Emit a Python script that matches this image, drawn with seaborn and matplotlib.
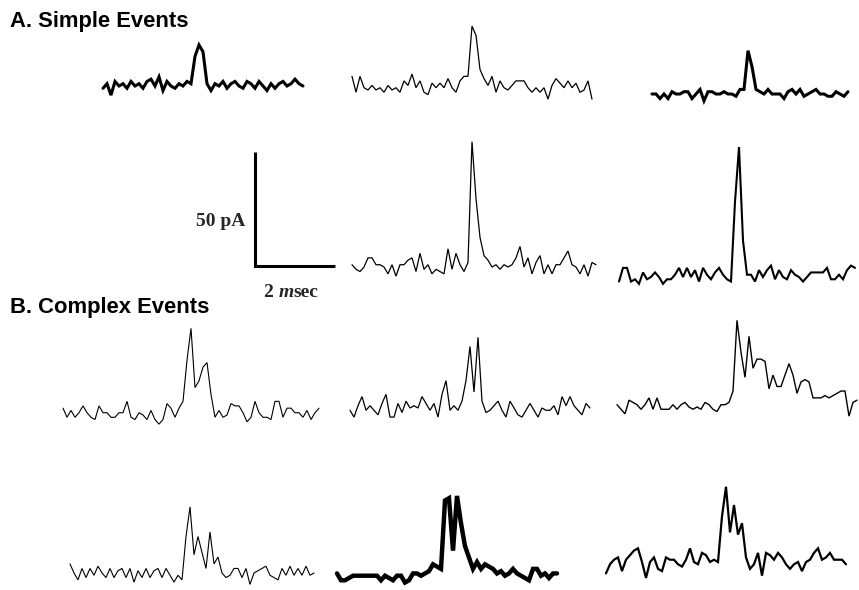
import matplotlib
matplotlib.use("Agg")
import matplotlib.pyplot as plt
import seaborn as sns

sns.set_theme(style="white")
plt.rcParams['font.family'] = ['Liberation Sans', 'DejaVu Sans']

# ---------------- data (currents in pA, sampled every DT_MS) ----------------
DT_MS = 0.1
SCALE_PA = 50
SCALE_MS = 2

section_titles = ["A. Simple Events", "B. Complex Events"]
scale_labels = ["50 pA", "2 ", "m", "sec"]

simple_1 = [-1, 1, -4, 2, 0, 1, -1, 2, 0, 1, -1, 2, 3, 0, 4, -2, 2, 0, -1, 1, 0, 2, 1, 13, 18,
            15, 1, -2, 1, 0, 2, -1, 1, 2, 0, -1, 2, 1, -1, 2, 0, -2, 1, -1, 1, 2, 0, 1, 3, 1, 0]
simple_2 = [6, -1, 6, 1, 0, 2, 0, 1, -1, 2, 0, 1, -1, 4, 2, 7, 1, 4, -1, -2, 3, 1, 3, 1, 5, 1, -1, 4,
            6, 6, 28, 24, 9, 5, 2, 6, -1, 4, 1, 0, 2, 4, 4, 4, 1, -1, 1, -1, 1, -4, 2, 5, 3, 1, 4, 1,
            3, -1, 0, 4, -4]
simple_3 = [0, 0, -2, 0, -2, 1, 0, 0, 1, 1, -2, 0, 2, -3, 1, 1, 0, 0, 1, 0, 0, -1, 2, 2, 19,
            12, 2, 1, 0, 2, 0, 0, 0, -2, 1, 2, 0, 2, -1, 0, 1, 2, 0, 0, -1, -1, 1, 0, -1, 1]
simple_4 = [1, -1, -2, 0, 4, 4, 1, 1, 0, -3, 1, -4, 1, 1, 3, 4, -2, 6, -1, 1, -3, -1, -2, -3, 8,
            -1, 6, 1, -2, 2, 55, 30, 13, 5, 3, 0, 1, -1, 1, 0, 1, 4, 9, 0, 4, -3, 2, 5, -3, 1,
            -3, 1, 1, 4, 7, 1, 0, -3, 1, -4, 2, 1]
simple_5 = [-2, 4, 4, -2, -1, -3, 2, -1, 0, 2, 0, -3, -1, -1, 1, 4, 0, 4, 0, 3, -2, 4, 1, -1, 2,
            4, 1, -1, -2, 33, 57, 16, 1, 1, -2, 3, 0, 3, 5, -1, 3, 0, -1, 3, 1, 0, -2, 0, 2, 2,
            2, 2, 4, -1, -1, 1, -1, 3, 5, 4]
complex_1 = [3, -1, 2, -1, 1, 4, 1, -1, -2, 4, 1, 1, -1, -1, 1, 1, 6, -1, -2, 1, 0, -2, 2, -2, -4,
             -2, 5, 3, -1, 3, 6, 24, 38, 12, 15, 21, 23, 9, -1, 2, -1, 0, 5, 4, 4, 1, -3, -1, 6, 1,
             -1, -1, -2, 6, 6, -1, 3, 3, 1, 1, -1, 2, -2, 1, 3]
complex_2 = [-1, -4, 1, 5, -1, 1, -1, -3, 2, 6, -4, -4, 2, -2, 3, 0, 1, 0, 5, 2, -1, 2, -4, 6, 12,
             -1, 1, -1, 3, 12, 27, 7, 31, 3, -2, -1, 1, 3, -1, -4, 3, 0, -3, -4, -1, 2, -1, -4, 0,
             -1, -1, 1, -3, 5, 1, 5, 1, -1, -3, 2, 0]
complex_3 = [1, -1, -3, 3, 2, 1, -1, 1, 4, -1, 4, -1, -1, -1, 1, -1, 1, 2, 0, -1, 0, -1, 2, 1, -1,
             -2, 1, 1, 2, 7, 38, 24, 13, 31, 17, 21, 21, 20, 8, 14, 9, 9, 14, 19, 14, 6, 11, 12,
             11, 4, 4, 4, 5, 4, 5, 6, 7, 7, -4, 2, 3]
complex_4 = [4, 0, -3, 2, -2, 2, -1, 3, 0, -2, 2, -2, 1, 2, -2, 2, -4, 1, -2, 2, -2, 1, 2, -2, 2,
             -1, -4, -1, -3, 16, 29, 8, 16, 9, 2, 18, 4, 7, 0, -2, -1, 2, 2, -2, 2, -5, 0, 1, 2,
             3, -1, -2, -3, 2, -1, 3, -1, 2, -1, 3, -1, 0]
complex_5 = [2, -1, -1, 0, 1, 1, 1, 1, 1, 1, 1, -1, 1, 0, -1, 1, 1, -2, -1, 2, 2, 1, 2, 3, 6, 5,
             4, 34, 35, 12, 36, 24, 14, 9, 4, 7, 4, 6, 5, 4, 2, 3, 1, 2, 4, 2, 1, 0, -1, 4, 4, 1,
             2, 0, 2, 2]
complex_6 = [-5, -1, 1, 2, -4, 1, 3, 5, 6, 0, -7, 0, 2, -3, -4, 2, 1, 1, -1, -2, 1, 6, 0, -1, 4,
             3, 0, 1, 0, 20, 33, 13, 25, 12, 17, 2, -3, -1, 4, -6, 4, 3, 1, 4, 2, -1, -3, -1, 0,
             -4, 0, 1, 4, 6, 1, 2, 4, 1, 1, 1, -1]

# ---------------- layout (pixels) ----------------
W, H = 859, 590
PX_PER_MS = 40.0
PX_PER_PA = 2.28
Y_LO, Y_HI = -12, 62

fig = plt.figure(figsize=(W / 100, H / 100), dpi=100)
fig.patch.set_facecolor("white")


def make_axes(x0, ybase, duration):
    w = duration * PX_PER_MS
    h = (Y_HI - Y_LO) * PX_PER_PA
    top = ybase - Y_HI * PX_PER_PA
    ax = fig.add_axes([x0 / W, 1 - (top + h) / H, w / W, h / H])
    ax.set_xlim(0, duration)
    ax.set_ylim(Y_LO, Y_HI)
    ax.set_axis_off()
    return ax


layout = [
    (simple_1, 103, 86, 2.2),
    (simple_2, 352, 90, 0.9),
    (simple_3, 652, 94, 2.2),
    (simple_4, 352, 267, 0.9),
    (simple_5, 619, 277, 1.5),
    (complex_1, 63, 415, 0.8),
    (complex_2, 350, 408, 0.9),
    (complex_3, 617, 407, 1.0),
    (complex_4, 70, 573, 0.8),
    (complex_5, 337, 578, 3.2),
    (complex_6, 606, 562, 1.6),
]

for vals, x0, yb, lw in layout:
    t = [i * DT_MS for i in range(len(vals))]
    ax = make_axes(x0, yb, t[-1])
    sns.lineplot(x=t, y=vals, ax=ax, color="black", linewidth=lw,
                 clip_on=False, estimator=None)
    for line in ax.lines:
        line.set_solid_joinstyle("miter")

# scale bar
sax = make_axes(255, 266, SCALE_MS)
sns.lineplot(x=[0, 0, SCALE_MS], y=[SCALE_PA, 0, 0], ax=sax, sort=False, estimator=None,
             color="black", linewidth=2.2, clip_on=False)
for line in sax.lines:
    line.set_solid_joinstyle("miter")
    line.set_solid_capstyle("butt")

# texts
fig.text(10 / W, 1 - 27 / H, section_titles[0], fontsize=15.8, fontweight="bold",
         va="baseline", ha="left", color="black")
fig.text(10 / W, 1 - 313 / H, section_titles[1], fontsize=15.8, fontweight="bold",
         va="baseline", ha="left", color="black")

serif = ['Liberation Serif', 'DejaVu Serif']
fs = 14
fig.text(245 / W, 1 - 226 / H, scale_labels[0], fontsize=fs, fontweight="bold",
         family=serif, ha="right", va="baseline")
t2 = fig.text(264 / W, 1 - 297 / H, scale_labels[1], fontsize=fs, fontweight="bold",
              family=serif, ha="left", va="baseline")
t3 = fig.text(0, 0, scale_labels[2], fontsize=fs, fontweight="bold", style="italic",
              family=serif, ha="left", va="baseline")
t4 = fig.text(0, 0, scale_labels[3], fontsize=fs, fontweight="bold",
              family=serif, ha="left", va="baseline")
fig.canvas.draw()
r = fig.canvas.get_renderer()
bb2 = t2.get_window_extent(r)
t3.set_position((bb2.x1 / W, 1 - 297 / H))
fig.canvas.draw()
bb3 = t3.get_window_extent(r)
t4.set_position((bb3.x1 / W, 1 - 297 / H))

fig.savefig("out.png", dpi=100, facecolor="white")
